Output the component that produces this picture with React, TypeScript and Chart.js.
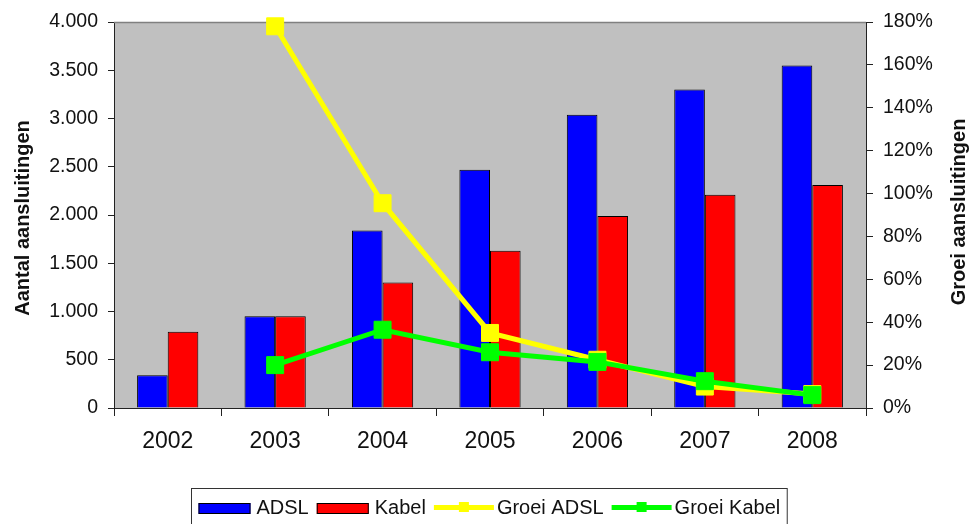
import React, { useEffect, useRef } from "react";
import { Chart, registerables } from "chart.js";

Chart.register(...registerables);

const years = ["2002", "2003", "2004", "2005", "2006", "2007", "2008"];
const adsl = [340, 950, 1840, 2470, 3040, 3300, 3550];
const kabel = [790, 950, 1300, 1630, 1990, 2210, 2310];
const groeiAdsl = [null, 178, 95.5, 35, 22.5, 10, 6.5];
const groeiKabel = [null, 20, 36.5, 26, 21.5, 12.5, 6];

const leftTitle = "Aantal aansluitingen";
const rightTitle = "Groei aansluitingen";

const FONT = "'Liberation Sans', Arial, sans-serif";

const fmtThousands = (v: number) =>
  String(v).replace(/\B(?=(\d{3})+(?!\d))/g, ".");

const decorPlugin = {
  id: "decor",
  beforeDraw(chart: any) {
    const { ctx, chartArea: a } = chart;
    ctx.save();
    ctx.fillStyle = "#c0c0c0";
    ctx.fillRect(a.left, a.top, a.right - a.left, a.bottom - a.top);
    ctx.restore();
  },
  beforeDatasetsDraw(chart: any) {
    const { ctx, chartArea: a } = chart;
    ctx.save();
    ctx.strokeStyle = "#808080";
    ctx.lineWidth = 1.5;
    ctx.beginPath();
    ctx.moveTo(a.left, a.top + 0.5);
    ctx.lineTo(a.right, a.top + 0.5);
    ctx.stroke();
    ctx.restore();
  },
  afterDraw(chart: any) {
    const { ctx } = chart;
    ctx.save();
    // axis titles
    ctx.fillStyle = "#111";
    ctx.font = `bold 20px ${FONT}`;
    ctx.textAlign = "center";
    ctx.textBaseline = "middle";
    ctx.save();
    ctx.translate(23, 218);
    ctx.rotate(-Math.PI / 2);
    ctx.fillText(leftTitle, 0, 0);
    ctx.restore();
    ctx.save();
    ctx.translate(959, 212);
    ctx.rotate(-Math.PI / 2);
    ctx.fillText(rightTitle, 0, 0);
    ctx.restore();

    // legend
    const items = chart.data.datasets.map((d: any) => ({
      label: d.label,
      color: d.backgroundColor,
      kind: d.type === "line" ? "line" : "bar",
    }));
    ctx.font = `20px ${FONT}`;
    const rectW = 52;
    const lineW = 60;
    const widths = items.map((it: any) => {
      const sw = it.kind === "bar" ? rectW + 6 : lineW + 3;
      return sw + ctx.measureText(it.label).width;
    });
    const gap = 8;
    const inner = widths.reduce((s: number, w: number) => s + w, 0) + gap * (items.length - 1);
    const padX = 7;
    const boxW = inner + padX * 2;
    const cx = 489;
    const boxL = Math.round(cx - boxW / 2) + 0.5;
    const boxT = 488.5;
    ctx.strokeStyle = "#333";
    ctx.lineWidth = 1;
    ctx.strokeRect(boxL, boxT, boxW, 40);
    let x = boxL + padX;
    const cy = 508;
    items.forEach((it: any) => {
      if (it.kind === "bar") {
        ctx.fillStyle = it.color;
        ctx.fillRect(x, cy - 5, rectW, 11);
        ctx.strokeStyle = "#000";
        ctx.strokeRect(x + 0.5, cy - 4.5, rectW - 1, 10);
        x += rectW + 6;
      } else {
        ctx.fillStyle = it.color;
        ctx.fillRect(x, cy - 3, lineW, 5);
        ctx.fillRect(x + lineW / 2 - 5, cy - 6, 10, 10);
        x += lineW + 3;
      }
      ctx.fillStyle = "#111";
      ctx.textAlign = "left";
      ctx.textBaseline = "middle";
      ctx.fillText(it.label, x, cy);
      x += ctx.measureText(it.label).width + gap;
    });
    ctx.restore();
  },
};

export default function App() {
  const ref = useRef<HTMLCanvasElement | null>(null);

  useEffect(() => {
    if (!ref.current) return;
    Chart.defaults.font.family = FONT;
    Chart.defaults.color = "#111";
    const chart = new Chart(ref.current, {
      type: "bar",
      data: {
        labels: years,
        datasets: [
          {
            type: "bar",
            label: "ADSL",
            data: adsl,
            backgroundColor: "#0000ff",
            borderColor: "#000",
            borderWidth: 1,
            yAxisID: "y",
            order: 2,
            categoryPercentage: 0.57,
            barPercentage: 1,
          },
          {
            type: "bar",
            label: "Kabel",
            data: kabel,
            backgroundColor: "#ff0000",
            borderColor: "#000",
            borderWidth: 1,
            yAxisID: "y",
            order: 3,
            categoryPercentage: 0.57,
            barPercentage: 1,
          },
          {
            type: "line",
            label: "Groei ADSL",
            data: groeiAdsl,
            backgroundColor: "#ffff00",
            borderColor: "#ffff00",
            borderWidth: 5,
            pointStyle: "rect",
            pointRadius: 12,
            pointBorderWidth: 1,
            pointBackgroundColor: "#ffff00",
            pointBorderColor: "#ffff00",
            yAxisID: "y1",
            order: 1,
            clip: false,
            spanGaps: false,
          },
          {
            type: "line",
            label: "Groei Kabel",
            data: groeiKabel,
            backgroundColor: "#00ff00",
            borderColor: "#00ff00",
            borderWidth: 5,
            pointStyle: "rect",
            pointRadius: 12,
            pointBorderWidth: 1,
            pointBackgroundColor: "#00ff00",
            pointBorderColor: "#00ff00",
            yAxisID: "y1",
            order: 0,
            clip: false,
            spanGaps: false,
          },
        ] as any,
      },
      options: {
        responsive: false,
        animation: false,
        devicePixelRatio: 1,
        layout: { padding: { top: 22, left: 0, right: 0, bottom: 60 } },
        plugins: {
          legend: { display: false },
          tooltip: { enabled: false },
        },
        scales: {
          x: {
            type: "category",
            offset: true,
            grid: {
              offset: true,
              drawOnChartArea: false,
              tickLength: 8,
              color: "#222",
            },
            border: { color: "#222", width: 1 },
            ticks: { font: { size: 23 }, color: "#111", padding: 12, maxRotation: 0 },
            afterFit: (s: any) => {
              s.height = 56;
            },
          },
          y: {
            position: "left",
            min: 0,
            max: 4000,
            grid: { drawOnChartArea: false, tickLength: 6, color: "#222" },
            border: { color: "#222", width: 1 },
            ticks: {
              stepSize: 500,
              font: { size: 19.5 },
              color: "#111",
              padding: 10,
              callback: (v: any) => fmtThousands(Number(v)),
            },
            afterFit: (s: any) => {
              s.width = 114;
            },
          },
          y1: {
            position: "right",
            min: 0,
            max: 180,
            grid: { drawOnChartArea: false, tickLength: 7, color: "#222" },
            border: { color: "#222", width: 1 },
            ticks: {
              stepSize: 20,
              font: { size: 19.5 },
              color: "#111",
              padding: 10,
              callback: (v: any) => `${v}%`,
            },
            afterFit: (s: any) => {
              s.width = 111;
            },
          },
        },
      } as any,
      plugins: [decorPlugin],
    });
    return () => chart.destroy();
  }, []);

  return (
    <div style={{ position: "absolute", left: 0, top: 0, width: 977, height: 524, background: "#fff" }}>
      <canvas ref={ref} width={977} height={524} style={{ display: "block" }} />
    </div>
  );
}
